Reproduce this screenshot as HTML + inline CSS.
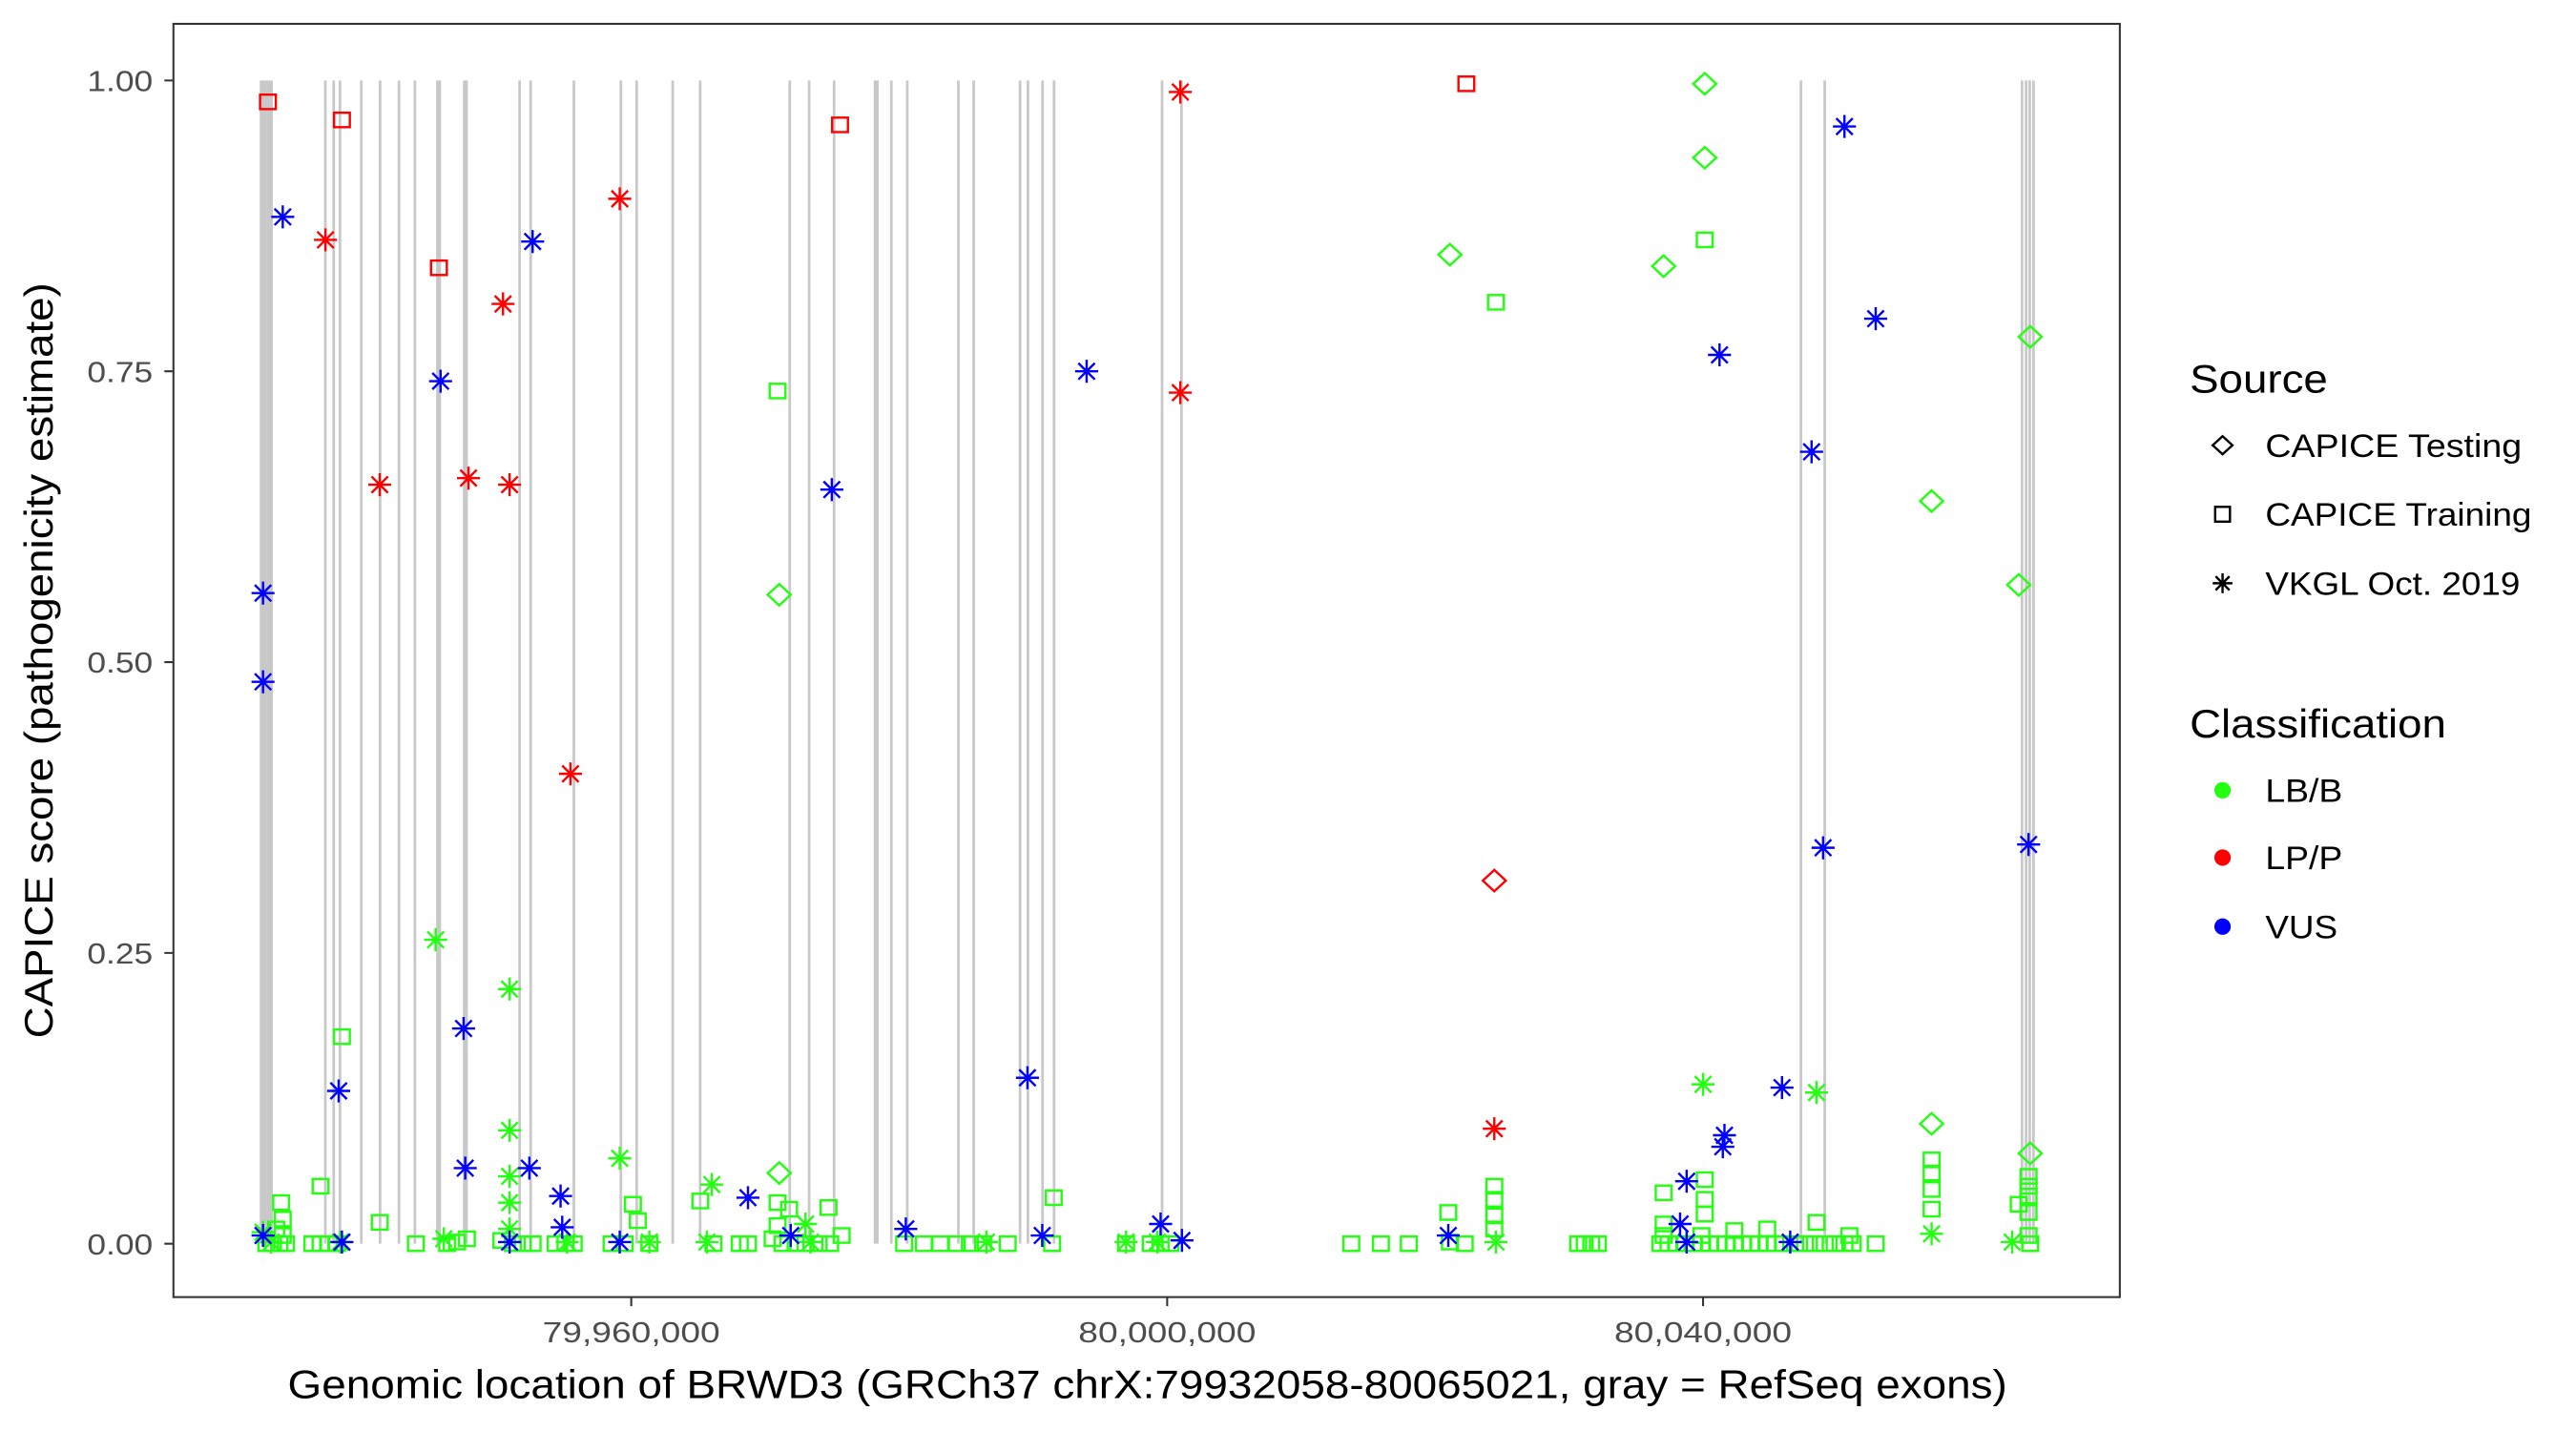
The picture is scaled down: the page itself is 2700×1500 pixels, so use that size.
<!DOCTYPE html>
<html><head><meta charset="utf-8"><style>
html,body{margin:0;padding:0;background:#fff}
svg{display:block}
text{font-family:"Liberation Sans",sans-serif}
</style></head><body>
<svg width="2700" height="1500" viewBox="0 0 1567 871" preserveAspectRatio="none" xmlns="http://www.w3.org/2000/svg" xmlns:xlink="http://www.w3.org/1999/xlink">
<defs>
<rect id="s" x="-4.8" y="-4.4" width="9.6" height="8.8" fill="none" stroke-width="1.4"/>
<path id="d" d="M0,-6.5L7,0L0,6.5L-7,0Z" fill="none" stroke-width="1.4"/>
<path id="a" d="M-7,0H7M0,-7V7M-5,-5L5,5M-5,5L5,-5" fill="none" stroke-width="1.4"/>
</defs>
<rect width="1567" height="871" fill="#fff"/>
<g stroke="#c8c8c8" stroke-width="1.6">
<rect x="158" y="49" width="8" height="708" fill="#c8c8c8" stroke="none"/>
<path d="M197.9,49V757M203,49V757M206.8,49V757M219.8,49V757M231.2,49V757M242.7,49V757M252.4,49V757M316.1,49V757M322.8,49V757M349.1,49V757M377.7,49V757M387.3,49V757M409.2,49V757M425.9,49V757M480.4,49V757M492.2,49V757M507.4,49V757M542.2,49V757M551.9,49V757M583,49V757M592.3,49V757M620.5,49V757M625.3,49V757M634.2,49V757M641.2,49V757M706.9,49V757M718.7,49V757M1095.5,49V757M1110,49V757M1230,49V757M1232.5,49V757M1234.7,49V757M1237,49V757"/>
<path stroke-width="3" d="M266.8,49V757M283.1,49V757M533,49V757"/>
</g>
<rect x="105.5" y="14.5" width="1184" height="775" fill="none" stroke="#333" stroke-width="1.2"/>
<g stroke="#333" stroke-width="1.2">
<path d="M100,49H105M100,226H105M100,403H105M100,580H105M100,757H105"/>
<path d="M384,790V795M710,790V795M1036,790V795"/>
</g>
<g font-size="18" fill="#4d4d4d" lengthAdjust="spacingAndGlyphs">
<text x="53" y="55.5" textLength="40" lengthAdjust="spacingAndGlyphs">1.00</text>
<text x="53" y="232.5" textLength="40" lengthAdjust="spacingAndGlyphs">0.75</text>
<text x="53" y="409.5" textLength="40" lengthAdjust="spacingAndGlyphs">0.50</text>
<text x="53" y="586.5" textLength="40" lengthAdjust="spacingAndGlyphs">0.25</text>
<text x="53" y="763.5" textLength="40" lengthAdjust="spacingAndGlyphs">0.00</text>
<text x="330" y="817" textLength="108" lengthAdjust="spacingAndGlyphs">79,960,000</text>
<text x="656" y="817" textLength="108" lengthAdjust="spacingAndGlyphs">80,000,000</text>
<text x="982" y="817" textLength="108" lengthAdjust="spacingAndGlyphs">80,040,000</text>
</g>
<text x="175" y="851" font-size="24" textLength="1046" lengthAdjust="spacingAndGlyphs">Genomic location of BRWD3 (GRCh37 chrX:79932058-80065021, gray = RefSeq exons)</text>
<text transform="translate(32,632) rotate(-90)" font-size="24" textLength="460" lengthAdjust="spacingAndGlyphs">CAPICE score (pathogenicity estimate)</text>
<g stroke="#22ff11">
<use xlink:href="#s" x="162" y="757"/><use xlink:href="#s" x="166" y="757"/><use xlink:href="#s" x="170" y="757"/><use xlink:href="#s" x="174" y="757"/><use xlink:href="#s" x="172" y="752"/><use xlink:href="#s" x="168" y="748"/>
<use xlink:href="#s" x="190" y="757"/><use xlink:href="#s" x="195" y="757"/><use xlink:href="#s" x="200" y="757"/><use xlink:href="#s" x="205" y="757"/>
<use xlink:href="#s" x="253" y="757"/><use xlink:href="#s" x="272" y="757"/><use xlink:href="#s" x="278" y="756"/><use xlink:href="#s" x="284" y="754"/>
<use xlink:href="#s" x="305" y="755"/><use xlink:href="#s" x="312" y="757"/><use xlink:href="#s" x="318" y="757"/><use xlink:href="#s" x="324" y="757"/>
<use xlink:href="#s" x="338" y="757"/><use xlink:href="#s" x="344" y="757"/><use xlink:href="#s" x="349" y="757"/>
<use xlink:href="#s" x="372" y="757"/><use xlink:href="#s" x="380" y="757"/><use xlink:href="#s" x="395" y="757"/>
<use xlink:href="#s" x="434" y="757"/><use xlink:href="#s" x="450" y="757"/><use xlink:href="#s" x="455" y="757"/>
<use xlink:href="#s" x="470" y="754"/><use xlink:href="#s" x="476" y="757"/><use xlink:href="#s" x="484" y="757"/><use xlink:href="#s" x="490" y="757"/><use xlink:href="#s" x="498" y="757"/><use xlink:href="#s" x="505" y="757"/>
<use xlink:href="#s" x="550" y="757"/><use xlink:href="#s" x="562" y="757"/><use xlink:href="#s" x="572" y="757"/><use xlink:href="#s" x="582" y="757"/><use xlink:href="#s" x="590" y="757"/><use xlink:href="#s" x="598" y="757"/><use xlink:href="#s" x="613" y="757"/><use xlink:href="#s" x="640" y="757"/>
<use xlink:href="#s" x="685" y="757"/><use xlink:href="#s" x="700" y="757"/><use xlink:href="#s" x="706" y="757"/><use xlink:href="#s" x="712" y="757"/>
<use xlink:href="#s" x="822" y="757"/><use xlink:href="#s" x="840" y="757"/><use xlink:href="#s" x="857" y="757"/><use xlink:href="#s" x="891" y="757"/><use xlink:href="#s" x="882" y="756"/>
<use xlink:href="#s" x="960" y="757"/><use xlink:href="#s" x="964" y="757"/><use xlink:href="#s" x="968" y="757"/><use xlink:href="#s" x="972" y="757"/>
<use xlink:href="#s" x="1010" y="757"/><use xlink:href="#s" x="1015" y="757"/><use xlink:href="#s" x="1020" y="757"/><use xlink:href="#s" x="1025" y="757"/><use xlink:href="#s" x="1030" y="757"/><use xlink:href="#s" x="1035" y="757"/><use xlink:href="#s" x="1040" y="757"/><use xlink:href="#s" x="1045" y="757"/><use xlink:href="#s" x="1050" y="757"/><use xlink:href="#s" x="1055" y="757"/><use xlink:href="#s" x="1060" y="757"/><use xlink:href="#s" x="1065" y="757"/><use xlink:href="#s" x="1070" y="757"/><use xlink:href="#s" x="1075" y="757"/><use xlink:href="#s" x="1080" y="757"/><use xlink:href="#s" x="1085" y="757"/><use xlink:href="#s" x="1092" y="757"/><use xlink:href="#s" x="1098" y="757"/><use xlink:href="#s" x="1104" y="757"/><use xlink:href="#s" x="1110" y="757"/><use xlink:href="#s" x="1116" y="757"/><use xlink:href="#s" x="1122" y="757"/><use xlink:href="#s" x="1127" y="757"/><use xlink:href="#s" x="1141" y="757"/>
<use xlink:href="#s" x="1012" y="752"/><use xlink:href="#s" x="1012" y="745"/><use xlink:href="#s" x="1055" y="749"/><use xlink:href="#s" x="1075" y="748"/><use xlink:href="#s" x="1105" y="744"/><use xlink:href="#s" x="1125" y="752"/><use xlink:href="#s" x="1035" y="752"/>
<use xlink:href="#s" x="1235" y="757"/><use xlink:href="#s" x="1234" y="752"/>
<use xlink:href="#s" x="473" y="238"/><use xlink:href="#s" x="1037" y="146"/><use xlink:href="#s" x="910" y="184"/><use xlink:href="#s" x="208" y="631"/><use xlink:href="#s" x="195" y="722"/><use xlink:href="#s" x="231" y="744"/><use xlink:href="#s" x="171" y="732"/><use xlink:href="#s" x="172" y="742"/>
<use xlink:href="#s" x="426" y="731"/><use xlink:href="#s" x="385" y="733"/><use xlink:href="#s" x="388" y="743"/><use xlink:href="#s" x="473" y="732"/><use xlink:href="#s" x="473" y="746"/><use xlink:href="#s" x="480" y="736"/><use xlink:href="#s" x="504" y="735"/><use xlink:href="#s" x="641" y="729"/><use xlink:href="#s" x="512" y="752"/>
<use xlink:href="#s" x="1012" y="726"/><use xlink:href="#s" x="1037" y="718"/><use xlink:href="#s" x="1037" y="730"/><use xlink:href="#s" x="1037" y="739"/><use xlink:href="#s" x="881" y="738"/>
<use xlink:href="#s" x="909" y="722"/><use xlink:href="#s" x="909" y="730"/><use xlink:href="#s" x="909" y="740"/><use xlink:href="#s" x="909" y="748"/>
<use xlink:href="#s" x="1175" y="706"/><use xlink:href="#s" x="1175" y="714"/><use xlink:href="#s" x="1175" y="724"/><use xlink:href="#s" x="1175" y="736"/>
<use xlink:href="#s" x="1228" y="733"/><use xlink:href="#s" x="1234" y="716"/><use xlink:href="#s" x="1234" y="722"/><use xlink:href="#s" x="1234" y="728"/><use xlink:href="#s" x="1234" y="738"/>
<use xlink:href="#d" x="1037" y="51"/><use xlink:href="#d" x="1037" y="96"/><use xlink:href="#d" x="882" y="155"/><use xlink:href="#d" x="1012" y="162"/><use xlink:href="#d" x="1235" y="205"/><use xlink:href="#d" x="1175" y="305"/><use xlink:href="#d" x="1228" y="356"/><use xlink:href="#d" x="474" y="362"/><use xlink:href="#d" x="474" y="714"/><use xlink:href="#d" x="1175" y="684"/><use xlink:href="#d" x="1235" y="702"/>
<use xlink:href="#a" x="265" y="572"/><use xlink:href="#a" x="310" y="602"/><use xlink:href="#a" x="377" y="705"/><use xlink:href="#a" x="310" y="688"/><use xlink:href="#a" x="310" y="716"/><use xlink:href="#a" x="310" y="732"/><use xlink:href="#a" x="433" y="721"/><use xlink:href="#a" x="1036" y="660"/><use xlink:href="#a" x="1105" y="665"/><use xlink:href="#a" x="1175" y="751"/><use xlink:href="#a" x="1224" y="756"/>
<use xlink:href="#a" x="160" y="750"/><use xlink:href="#a" x="270" y="754"/><use xlink:href="#a" x="310" y="748"/><use xlink:href="#a" x="490" y="745"/><use xlink:href="#a" x="493" y="756"/><use xlink:href="#a" x="910" y="756"/><use xlink:href="#a" x="600" y="756"/><use xlink:href="#a" x="685" y="756"/><use xlink:href="#a" x="704" y="756"/><use xlink:href="#a" x="430" y="756"/><use xlink:href="#a" x="165" y="756"/><use xlink:href="#a" x="395" y="756"/><use xlink:href="#a" x="207" y="756"/><use xlink:href="#a" x="345" y="756"/>
</g>
<g stroke="#ff0000">
<use xlink:href="#s" x="163" y="62"/><use xlink:href="#s" x="208" y="73"/><use xlink:href="#s" x="267" y="163"/><use xlink:href="#s" x="511" y="76"/><use xlink:href="#s" x="892" y="51"/>
<use xlink:href="#a" x="198" y="146"/><use xlink:href="#a" x="231" y="295"/><use xlink:href="#a" x="285" y="291"/><use xlink:href="#a" x="306" y="185"/><use xlink:href="#a" x="310" y="295"/><use xlink:href="#a" x="377" y="121"/><use xlink:href="#a" x="347" y="471"/><use xlink:href="#a" x="718" y="56"/><use xlink:href="#a" x="718" y="239"/><use xlink:href="#a" x="909" y="687"/>
<use xlink:href="#d" x="909" y="536"/>
</g>
<g stroke="#0000ff">
<use xlink:href="#a" x="172" y="132"/><use xlink:href="#a" x="160" y="361"/><use xlink:href="#a" x="160" y="415"/><use xlink:href="#a" x="268" y="232"/><use xlink:href="#a" x="324" y="147"/><use xlink:href="#a" x="282" y="626"/><use xlink:href="#a" x="206" y="664"/><use xlink:href="#a" x="283" y="711"/><use xlink:href="#a" x="322" y="711"/><use xlink:href="#a" x="341" y="728"/><use xlink:href="#a" x="342" y="747"/><use xlink:href="#a" x="310" y="756"/><use xlink:href="#a" x="377" y="756"/><use xlink:href="#a" x="455" y="729"/><use xlink:href="#a" x="481" y="752"/><use xlink:href="#a" x="506" y="298"/><use xlink:href="#a" x="661" y="226"/><use xlink:href="#a" x="625" y="656"/><use xlink:href="#a" x="551" y="748"/><use xlink:href="#a" x="634" y="752"/><use xlink:href="#a" x="706" y="745"/><use xlink:href="#a" x="719" y="755"/>
<use xlink:href="#a" x="1122" y="77"/><use xlink:href="#a" x="1141" y="194"/><use xlink:href="#a" x="1046" y="216"/><use xlink:href="#a" x="1102" y="275"/><use xlink:href="#a" x="1109" y="516"/><use xlink:href="#a" x="1234" y="514"/><use xlink:href="#a" x="1084" y="662"/><use xlink:href="#a" x="1049" y="691"/><use xlink:href="#a" x="1048" y="698"/><use xlink:href="#a" x="1026" y="719"/><use xlink:href="#a" x="1022" y="745"/><use xlink:href="#a" x="1026" y="756"/><use xlink:href="#a" x="1089" y="756"/><use xlink:href="#a" x="881" y="752"/><use xlink:href="#a" x="208" y="756"/><use xlink:href="#a" x="160" y="752"/>
</g>
<text x="1332" y="239" font-size="24" textLength="84" lengthAdjust="spacingAndGlyphs">Source</text>
<g stroke="#000">
<path d="M1352,265.5L1358,271L1352,276.5L1346,271Z" fill="none" stroke-width="1.4"/>
<rect x="1347.5" y="308.5" width="9" height="9" fill="none" stroke-width="1.4"/>
<path d="M1346,355H1358M1352,349V361M1347.8,350.8L1356.2,359.2M1347.8,359.2L1356.2,350.8" fill="none" stroke-width="1.4"/>
</g>
<g font-size="20">
<text x="1378" y="278" textLength="156" lengthAdjust="spacingAndGlyphs">CAPICE Testing</text>
<text x="1378" y="320" textLength="162" lengthAdjust="spacingAndGlyphs">CAPICE Training</text>
<text x="1378" y="362" textLength="155" lengthAdjust="spacingAndGlyphs">VKGL Oct. 2019</text>
</g>
<text x="1332" y="449" font-size="24" textLength="156" lengthAdjust="spacingAndGlyphs">Classification</text>
<circle cx="1352" cy="481" r="5" fill="#22ff11"/>
<circle cx="1352" cy="522" r="5" fill="#ff0000"/>
<circle cx="1352" cy="564" r="5" fill="#0000ff"/>
<g font-size="20">
<text x="1378" y="488" textLength="47" lengthAdjust="spacingAndGlyphs">LB/B</text>
<text x="1378" y="529" textLength="47" lengthAdjust="spacingAndGlyphs">LP/P</text>
<text x="1378" y="571" textLength="44" lengthAdjust="spacingAndGlyphs">VUS</text>
</g>
</svg>
</body></html>
